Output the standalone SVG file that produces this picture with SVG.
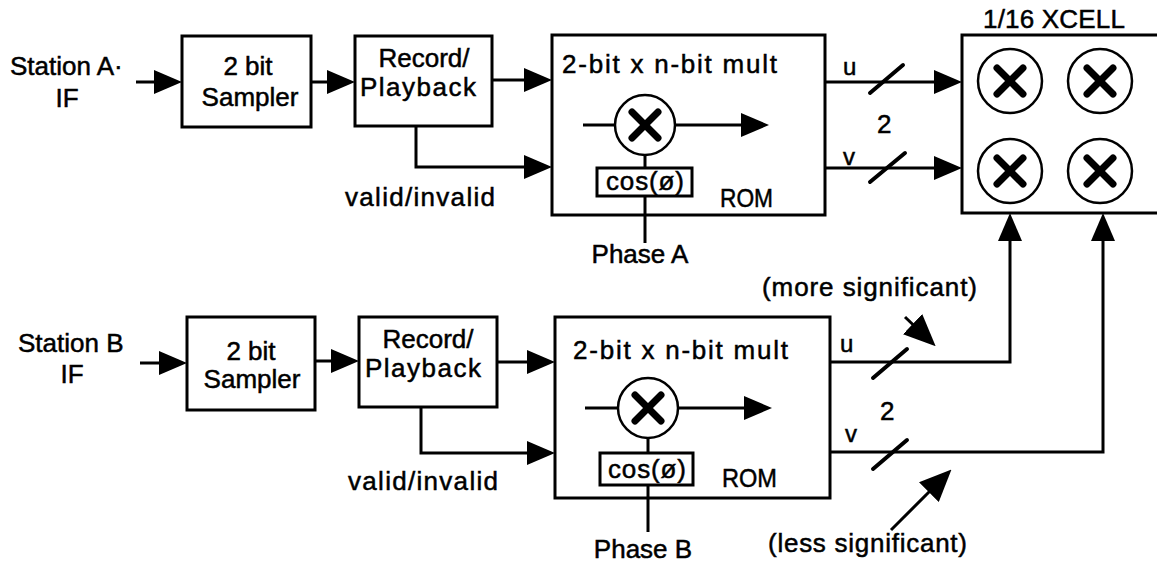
<svg xmlns="http://www.w3.org/2000/svg" width="1157" height="564" viewBox="0 0 1157 564">
<defs>
<style>
text{font-family:"Liberation Sans",Arial,Helvetica,sans-serif;font-size:26px;fill:#000;stroke:#000;stroke-width:0.5}
.c{text-anchor:middle}
.box{fill:none;stroke:#000;stroke-width:3}
.ln{fill:none;stroke:#000;stroke-width:3}
.arr{fill:none;stroke:#000;stroke-width:3;marker-end:url(#ah)}
.sl{stroke:#000;stroke-width:4;stroke-linecap:round}
.ring{fill:#fff;stroke:#000;stroke-width:2.5}
.x{stroke:#000;stroke-width:7;stroke-linecap:round}
.sm{font-size:24px}
</style>
<marker id="ah" markerUnits="userSpaceOnUse" markerWidth="28" markerHeight="24" refX="18" refY="12" orient="auto">
<path d="M0,0 L28,12 L0,24 z" fill="#000"/>
</marker>
<marker id="ahL" markerUnits="userSpaceOnUse" markerWidth="32" markerHeight="28" refX="20" refY="14" orient="auto">
<path d="M0,0 L32,14 L0,28 z" fill="#000"/>
</marker>
<g id="mulX">
<line class="x" x1="-13" y1="-13" x2="13" y2="13"/>
<line class="x" x1="-13" y1="13" x2="13" y2="-13"/>
</g>
</defs>
<rect width="1157" height="564" fill="#fff"/>

<g id="labels">
<text x="10" y="75">Station A·</text>
<text class="c" x="67" y="107">IF</text>
<text x="18" y="352">Station B</text>
<text class="c" x="72" y="383">IF</text>
<text x="345" y="206" textLength="150" lengthAdjust="spacing">valid/invalid</text>
<text x="348" y="490" textLength="150" lengthAdjust="spacing">valid/invalid</text>
<text class="c" x="640" y="263">Phase A</text>
<text class="c" x="643" y="558">Phase B</text>
<text x="762" y="296" textLength="215" lengthAdjust="spacing">(more significant)</text>
<text x="768" y="552" textLength="199" lengthAdjust="spacing">(less significant)</text>
<text x="843" y="75" class="sm">u</text>
<text x="843" y="165" class="sm">v</text>
<text x="877" y="133">2</text>
<text x="840" y="352" class="sm">u</text>
<text x="845" y="442" class="sm">v</text>
<text x="880" y="420">2</text>
</g>

<g id="samplerA">
<rect class="box" x="182" y="36" width="129" height="91"/>
<text class="c" x="248" y="75">2 bit</text>
<text class="c" x="250" y="106">Sampler</text>
</g>
<g id="recordA">
<rect class="box" x="355" y="36" width="137" height="90"/>
<text class="c" x="424" y="67">Record/</text>
<text class="c" x="418" y="96" textLength="116" lengthAdjust="spacing">Playback</text>
</g>
<g id="multA">
<rect class="box" x="552" y="35" width="273" height="180"/>
<text x="562" y="73" textLength="215" lengthAdjust="spacing">2-bit x n-bit mult</text>
<line class="ln" x1="583" y1="125" x2="615" y2="125"/>
<line class="arr" x1="675" y1="125" x2="759" y2="125"/>
<circle class="ring" cx="645" cy="125" r="30"/>
<use href="#mulX" x="645" y="125"/>
<line class="ln" x1="645" y1="155" x2="645" y2="168"/>
<rect class="box" x="597" y="168" width="95" height="28"/>
<text class="c" x="645" y="190" font-size="23" textLength="78" lengthAdjust="spacing">cos(ø)</text>
<line class="ln" x1="645" y1="196" x2="645" y2="243"/>
<text x="720" y="207" textLength="53" lengthAdjust="spacingAndGlyphs">ROM</text>
</g>

<g id="samplerB">
<rect class="box" x="187" y="317" width="128" height="93"/>
<text class="c" x="251" y="360">2 bit</text>
<text class="c" x="252" y="388">Sampler</text>
</g>
<g id="recordB">
<rect class="box" x="359" y="317" width="138" height="90"/>
<text class="c" x="428" y="348">Record/</text>
<text class="c" x="423" y="377" textLength="116" lengthAdjust="spacing">Playback</text>
</g>
<g id="multB">
<rect class="box" x="555" y="317" width="275" height="181"/>
<text x="573" y="359" textLength="215" lengthAdjust="spacing">2-bit x n-bit mult</text>
<line class="ln" x1="585" y1="408" x2="618" y2="408"/>
<line class="arr" x1="678" y1="408" x2="762" y2="408"/>
<circle class="ring" cx="648" cy="408" r="30"/>
<use href="#mulX" x="648" y="408"/>
<line class="ln" x1="648" y1="438" x2="648" y2="453"/>
<rect class="box" x="600" y="453" width="93" height="32"/>
<text class="c" x="647" y="478" font-size="23" textLength="78" lengthAdjust="spacing">cos(ø)</text>
<line class="ln" x1="648" y1="485" x2="648" y2="532"/>
<text x="722" y="487" textLength="55" lengthAdjust="spacingAndGlyphs">ROM</text>
</g>

<g id="xcell">
<text x="983" y="28" textLength="142" lengthAdjust="spacing">1/16 XCELL</text>
<rect class="box" x="962" y="35" width="200" height="178"/>
<circle class="ring" cx="1010" cy="81" r="32"/>
<use href="#mulX" x="1010" y="81"/>
<circle class="ring" cx="1100" cy="81" r="32"/>
<use href="#mulX" x="1100" y="81"/>
<circle class="ring" cx="1010" cy="171" r="32"/>
<use href="#mulX" x="1010" y="171"/>
<circle class="ring" cx="1100" cy="171" r="32"/>
<use href="#mulX" x="1100" y="171"/>
</g>

<g id="connectors">
<line class="arr" x1="136" y1="82" x2="172" y2="82"/>
<line class="arr" x1="311" y1="82" x2="345" y2="82"/>
<line class="arr" x1="492" y1="80" x2="542" y2="80"/>
<path class="arr" d="M416,126 V167 H542"/>
<line class="arr" x1="825" y1="82" x2="952" y2="82"/>
<line class="arr" x1="825" y1="168" x2="952" y2="168"/>
<line class="sl" x1="870" y1="93" x2="903" y2="65"/>
<line class="sl" x1="870" y1="182" x2="905" y2="153"/>

<line class="arr" x1="140" y1="363" x2="177" y2="363"/>
<line class="arr" x1="315" y1="361" x2="349" y2="361"/>
<line class="arr" x1="497" y1="362" x2="545" y2="362"/>
<path class="arr" d="M421,407 V453 H545"/>
<path class="arr" d="M830,362 H1010 V223"/>
<path class="arr" d="M830,452 H1103 V223"/>
<line class="sl" x1="873" y1="378" x2="907" y2="349"/>
<line class="sl" x1="873" y1="469" x2="907" y2="440"/>

<line class="arr" style="marker-end:url(#ahL)" x1="905" y1="317" x2="927" y2="338"/>
<line class="arr" style="marker-end:url(#ahL)" x1="891" y1="530" x2="943" y2="478"/>
</g>
</svg>
